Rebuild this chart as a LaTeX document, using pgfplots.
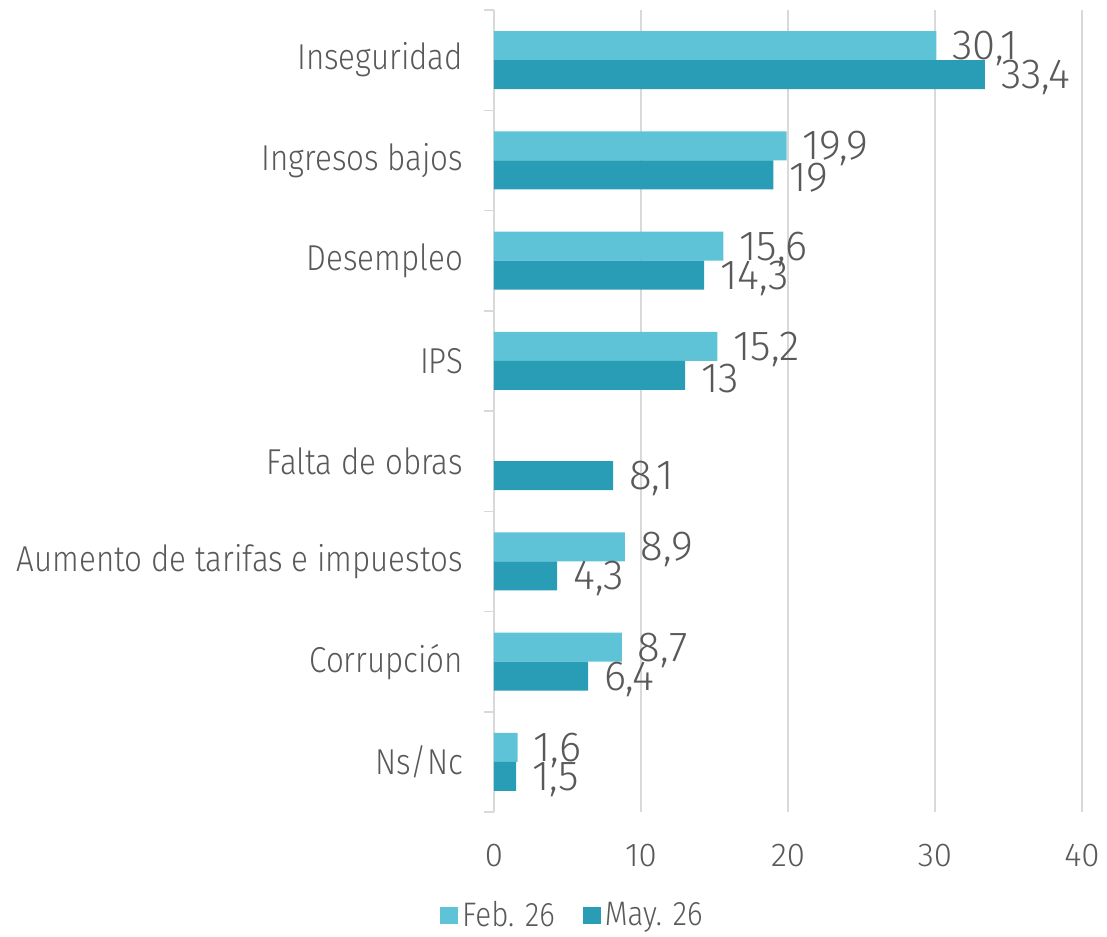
\documentclass[border=0pt]{standalone}
\usepackage{fontspec}
\setmainfont{Fira Sans Light}
\newfontfamily\catfont{Fira Sans Light}[FakeStretch=0.87]
\usepackage{pgfplots}
\pgfplotsset{compat=1.18}
\definecolor{feb}{HTML}{5EC3D7}
\definecolor{may}{HTML}{289DB5}
\definecolor{txt}{HTML}{595959}
\definecolor{gridc}{HTML}{D9D9D9}
\begin{document}
\begin{tikzpicture}
\useasboundingbox (-247pt,-62pt) rectangle (306.5pt,406pt);
\begin{axis}[
  at={(0,0)}, anchor=south west,
  scale only axis, width=294pt, height=401pt,
  xbar, bar width=14.5pt,
  xmin=0, xmax=40, ymin=-0.5, ymax=7.5,
  xtick={0,10,20,30,40},
  ytick={0,...,7},
  yticklabels={Ns/Nc, Corrupción, Aumento de tarifas e impuestos, Falta de obras, IPS, Desempleo, Ingresos bajos, Inseguridad},
  minor ytick={-0.5,0.5,...,7.5},
  axis line style={draw=none},
  xmajorgrids, major grid style={draw=gridc, line width=0.75pt},
  major tick length=0pt,
  minor tick length=5pt,
  tick align=outside,
  ytick pos=left, xtick pos=bottom,
  minor tick style={draw=gridc, line width=0.75pt},
  /pgf/number format/assume math mode=true,
  xticklabel style={font=\fontsize{16.5}{16.5}\selectfont, text=txt, yshift=-12.5pt},
  yticklabel style={font=\catfont\fontsize{18}{18}\selectfont, text=txt, xshift=-12pt},
  point meta=x,
  nodes near coords={\pgfmathprintnumber[use comma]{\pgfplotspointmeta}},
  nodes near coords align=horizontal,
  every node near coord/.append style={font=\fontsize{21}{21}\selectfont, text=txt, anchor=west, xshift=4.5pt, yshift=-1.5pt},
  legend style={at={(0.135,-0.129)}, anchor=center, draw=none, fill=none, legend columns=2,
    font=\catfont\fontsize{17}{17}\selectfont, text=txt,
    /tikz/every even column/.append style={column sep=12pt},
    inner sep=0pt},
  legend image code/.code={\fill[#1] (-2pt,-4.25pt) rectangle (7pt,4.25pt);},
]
\addplot[fill=feb, draw=none, bar shift=7.25pt] coordinates {(30.1,7) (19.9,6) (15.6,5) (15.2,4) (8.9,2) (8.7,1) (1.6,0)};
\addplot[fill=may, draw=none, bar shift=-7.25pt] coordinates {(33.4,7) (19,6) (14.3,5) (13,4) (8.1,3) (4.3,2) (6.4,1) (1.5,0)};
\legend{Feb. 26, May. 26}
\end{axis}
\end{tikzpicture}
\end{document}
